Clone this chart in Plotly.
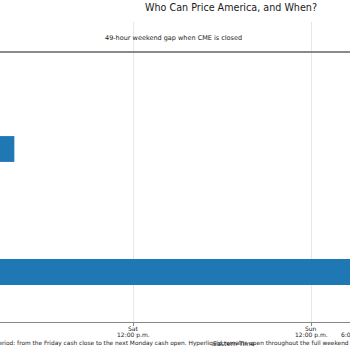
import plotly.graph_objects as go

# ---- data (hours measured from Friday 00:00, Eastern Time) ----
venues = ["Hyperliquid", "CME equity futures", "Extended-hours equities"]
row_pos = [0, 1, 2]

seg_venue = ["Hyperliquid", "CME equity futures", "CME equity futures", "Extended-hours equities"]
seg_start = [16, 16, 66, 16]
seg_end = [81.5, 17, 81.5, 20]

tick_hours = [16, 36, 60, 66]
tick_days = ["Fri", "Sat", "Sun", "Sun"]
tick_times = ["4:00 p.m.", "12:00 p.m.", "12:00 p.m.", "6:00 p.m."]

gap_start, gap_end = 17, 66          # CME closed: Fri 5 p.m. -> Sun 6 p.m. (49 h)
view_range = [18.067, 65.258]
y_range = [-0.813, 4.065]
gap_line_y = 3.577
gap_text_y = 3.805

title_text = "Who Can Price America, and When?"
gap_text = "49-hour weekend gap when CME is closed"
xlabel_text = "Eastern Time"
footnote_text = ("Weekend period: from the Friday cash close to the next Monday cash open. "
                 "Hyperliquid remains open throughout the full weekend")

BLUE = "#1f77b4"
TXT = "#1a1a1a"


def to_paper(h):
    # linear x scale of the axis, expressed as a paper fraction
    return (h - view_range[0]) / (view_range[1] - view_range[0])


fig = go.Figure(go.Bar(
    orientation="h",
    y=[row_pos[venues.index(v)] for v in seg_venue],
    x=[e - s for s, e in zip(seg_start, seg_end)],
    base=seg_start,
    width=0.42,
    marker=dict(color=BLUE, line=dict(width=0)),
    hoverinfo="skip",
))

fig.add_shape(type="line", xref="x", yref="y",
              x0=gap_start, x1=gap_end, y0=gap_line_y, y1=gap_line_y,
              line=dict(color="#8a8a8a", width=2))

fig.add_annotation(x=(gap_start + gap_end) / 2, y=gap_text_y, xref="x", yref="y",
                   text=gap_text, showarrow=False, xanchor="center", yanchor="middle",
                   font=dict(size=6.5, color=TXT))

# two-line tick labels (day / time)
for h, d, t in zip(tick_hours, tick_days, tick_times):
    fig.add_annotation(x=to_paper(h), y=-0.0217, xref="paper", yref="paper",
                       text=d, showarrow=False, xanchor="center", yanchor="middle",
                       font=dict(size=6, color=TXT))
    fig.add_annotation(x=to_paper(h), y=-0.042, xref="paper", yref="paper",
                       text=t, showarrow=False, xanchor="center", yanchor="middle",
                       font=dict(size=6, color=TXT))

fig.add_annotation(x=233 / 350, y=-0.0733, xref="paper", yref="paper",
                   text=xlabel_text, showarrow=False, xanchor="center", yanchor="middle",
                   font=dict(size=6.3, color=TXT))

fig.add_annotation(x=351 / 350, y=-0.07, xref="paper", yref="paper",
                   text=footnote_text, showarrow=False, xanchor="right", yanchor="middle",
                   font=dict(size=5.85, color=TXT))

fig.update_layout(
    width=350, height=350,
    margin=dict(l=0, r=0, t=22, b=28),
    paper_bgcolor="white", plot_bgcolor="white",
    showlegend=False,
    font=dict(family="DejaVu Sans", size=6, color=TXT),
    title=dict(text=title_text, x=231 / 350, xanchor="center", xref="paper",
               y=1 - 8 / 350, yanchor="middle", yref="container",
               font=dict(size=9.6, color=TXT)),
)

fig.update_xaxes(range=view_range, tickvals=tick_hours, showticklabels=False,
                 showgrid=True, gridcolor="rgba(176,176,176,0.3)", gridwidth=1,
                 showline=True, linecolor="#888888", linewidth=1,
                 ticks="outside", ticklen=3, tickcolor="#888888",
                 zeroline=False, automargin=False, layer="above traces")

fig.update_yaxes(range=y_range, tickvals=row_pos, ticktext=venues,
                 showgrid=False, zeroline=False, showline=False,
                 automargin=False, ticks="")

fig.write_html("out.html")
